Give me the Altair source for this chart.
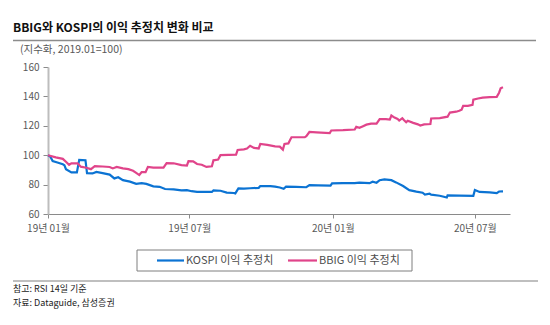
import altair as alt
import pandas as pd

# ---------------- data ----------------
series_names = ["KOSPI 이익 추정치", "BBIG 이익 추정치"]
series_colors = ["#0b73d3", "#e0448a"]

kospi_dates = [
    "2019-01-01", "2019-01-04", "2019-01-07", "2019-01-13", "2019-01-20", "2019-01-22",
    "2019-01-24", "2019-01-31", "2019-02-07", "2019-02-10", "2019-02-18", "2019-02-20",
    "2019-02-27", "2019-03-04", "2019-03-12", "2019-03-21", "2019-03-27", "2019-04-01",
    "2019-04-07", "2019-04-16", "2019-04-24", "2019-05-01", "2019-05-07", "2019-05-16",
    "2019-05-24", "2019-05-31", "2019-06-11", "2019-06-21", "2019-06-28", "2019-07-04",
    "2019-07-11", "2019-07-23", "2019-07-30", "2019-08-01", "2019-08-10", "2019-08-18",
    "2019-08-27", "2019-08-29", "2019-09-02", "2019-09-09", "2019-09-17", "2019-09-28",
    "2019-09-30", "2019-10-13", "2019-10-19", "2019-10-25", "2019-10-30", "2019-11-02",
    "2019-11-15", "2019-11-28", "2019-12-02", "2019-12-13", "2019-12-29", "2019-12-31",
    "2020-01-14", "2020-01-29", "2020-02-04", "2020-02-17", "2020-02-21", "2020-02-26",
    "2020-03-01", "2020-03-07", "2020-03-16", "2020-03-22", "2020-03-31", "2020-04-08",
    "2020-04-17", "2020-04-25", "2020-04-28", "2020-05-04", "2020-05-06", "2020-05-17",
    "2020-05-26", "2020-05-27", "2020-06-11", "2020-06-29", "2020-07-01", "2020-07-07",
    "2020-07-20", "2020-07-29", "2020-08-01", "2020-08-06",
]
kospi_vals = [
    100, 99, 96, 95, 93.8, 93.2,
    90.5, 88.3, 88.3, 96.8, 96.6, 87.8,
    87.6, 88.6, 87.8, 86.8, 84.2, 85,
    83, 82, 80.5, 81, 80.5, 78.8,
    78.5, 77, 76.8, 76.1, 76.2, 75.5,
    75.1, 75, 75, 76, 75.8, 74.6,
    74.3, 74, 77.4, 77.3, 77.5, 77.8,
    79, 79, 78.6, 78, 77.2, 78.6,
    78.5, 78.2, 79.6, 79.5, 79.3, 80.9,
    81, 81, 81.3, 81, 82, 81.3,
    83, 83.5, 83, 81.5, 79, 76.2,
    75.2, 74.5, 73.2, 73.8, 73.2, 72.4,
    71.2, 72.6, 72.5, 72.4, 76.3, 75,
    74.7, 74.2, 75.3, 75.4,
]

bbig_dates = [
    "2019-01-01", "2019-01-11", "2019-01-20", "2019-01-24", "2019-01-28", "2019-01-31",
    "2019-02-08", "2019-02-12", "2019-02-19", "2019-02-25", "2019-03-02", "2019-03-12",
    "2019-03-21", "2019-03-25", "2019-03-30", "2019-04-07", "2019-04-14", "2019-04-20",
    "2019-04-24", "2019-04-28", "2019-05-01", "2019-05-06", "2019-05-09", "2019-05-16",
    "2019-05-29", "2019-06-02", "2019-06-11", "2019-06-21", "2019-06-28", "2019-06-30",
    "2019-07-06", "2019-07-11", "2019-07-17", "2019-07-23", "2019-07-30", "2019-08-01",
    "2019-08-07", "2019-08-10", "2019-08-30", "2019-09-01", "2019-09-09", "2019-09-13",
    "2019-09-17", "2019-09-22", "2019-09-28", "2019-09-30", "2019-10-09", "2019-10-19",
    "2019-10-25", "2019-10-29", "2019-10-31", "2019-11-05", "2019-11-07", "2019-11-09",
    "2019-11-26", "2019-11-28", "2019-12-02", "2019-12-11", "2019-12-28", "2019-12-30",
    "2020-01-14", "2020-01-29", "2020-01-31", "2020-02-04", "2020-02-08", "2020-02-13",
    "2020-02-19", "2020-02-26", "2020-03-01", "2020-03-09", "2020-03-14", "2020-03-16",
    "2020-03-20", "2020-03-24", "2020-03-26", "2020-03-30", "2020-04-01", "2020-04-04",
    "2020-04-06", "2020-04-13", "2020-04-19", "2020-04-22", "2020-04-27", "2020-05-05",
    "2020-05-06", "2020-05-17", "2020-05-27", "2020-05-30", "2020-06-07", "2020-06-11",
    "2020-06-14", "2020-06-16", "2020-06-22", "2020-06-28", "2020-06-29", "2020-07-05",
    "2020-07-11", "2020-07-20", "2020-07-29", "2020-08-01", "2020-08-03", "2020-08-06",
]
bbig_vals = [
    100, 98.5, 97.5, 95.5, 93.5, 94.5,
    94.5, 92.2, 91.5, 90.5, 92.5, 92.3,
    92, 91, 92, 91, 90.5, 89.4,
    88, 86.5, 88.5, 88.5, 92, 91.5,
    91.5, 94.6, 94.5, 93.3, 93, 96,
    95.8, 94, 93.5, 92, 92.5, 96.5,
    97, 100, 100.4, 103.6, 104, 104.5,
    106.4, 105, 104.6, 107.6, 107, 106,
    105.8, 103.8, 107.6, 108, 110.2, 112.2,
    112.2, 113, 115.8, 115.5, 115, 116.8,
    117, 117.5, 119.3, 118.6, 119.6, 120.8,
    121.5, 121.5, 124.6, 124.6, 124.2, 127,
    125.6, 124.6, 123.6, 125.2, 124, 122.4,
    123.4, 122, 121, 120.2, 121, 121.2,
    125, 125.2, 126.2, 129, 129.6, 130.2,
    131, 133.6, 133.6, 134.2, 137.8, 138.6,
    139.2, 139.5, 139.7, 142.5, 145.5, 146.2,
]

y_ticks = [60, 80, 100, 120, 140, 160]
x_tick_dates = ["2019-01-01", "2019-07-01", "2020-01-01", "2020-07-01"]
x_domain = ["2019-01-01", "2020-08-15"]

title_text = "BBIG와 KOSPI의 이익 추정치 변화 비교"
subtitle_text = "(지수화, 2019.01=100)"
notes = ["참고: RSI 14일 기준", "자료: Dataguide, 삼성증권"]

# ---------------- build tables ----------------
df = pd.concat([
    pd.DataFrame({"date": kospi_dates, "value": kospi_vals, "series": series_names[0]}),
    pd.DataFrame({"date": bbig_dates, "value": bbig_vals, "series": series_names[1]}),
])

def ms(d):
    return int(pd.Timestamp(d, tz="UTC").value // 10**6)

FONT = "Noto Sans CJK KR"
color_scale = alt.Scale(domain=series_names, range=series_colors)

lines = alt.Chart(df).mark_line(strokeWidth=2.2).encode(
    x=alt.X(
        "date:T",
        scale=alt.Scale(type="utc", domain=[ms(d) for d in x_domain]),
        axis=alt.Axis(
            title=None, values=[ms(d) for d in x_tick_dates], format="%y년 %m월",
            grid=False, domainColor="#8a8a8a", domainWidth=1, tickColor="#8a8a8a",
            tickSize=4, labelPadding=5, labelFont=FONT, labelFontSize=10,
            labelColor="#595959", labelFlush=False,
        ),
    ),
    y=alt.Y(
        "value:Q",
        scale=alt.Scale(domain=[60, 160], nice=False, zero=False),
        axis=alt.Axis(
            title=None, values=y_ticks, grid=False, domainColor="#bdbdbd", domainWidth=2,
            tickColor="#8a8a8a", tickSize=5, labelPadding=4, labelFont=FONT,
            labelFontSize=10, labelColor="#595959",
        ),
    ),
    color=alt.Color("series:N", scale=color_scale, legend=None),
    detail="series:N",
)

def text_layer(txt, x, y, size, color, weight="normal"):
    return alt.Chart(pd.DataFrame({"t": [txt]})).mark_text(
        align="left", baseline="middle", font=FONT, fontSize=size, color=color,
        fontWeight=weight,
    ).encode(text="t:N", x=alt.value(x), y=alt.value(y))

one = pd.DataFrame({"k": [0]})

title = text_layer(title_text, -35, -39, 12, "#111111", "bold")
title_rule = alt.Chart(one).mark_rule(color="#8c8c8c", strokeWidth=1.5).encode(
    x=alt.value(-35), x2=alt.value(488), y=alt.value(-26.5))
subtitle = text_layer(subtitle_text, -28, -17, 10.5, "#595959")

legend_df = pd.DataFrame({"series": series_names})
legend_box = alt.Chart(one).mark_rect(fillOpacity=0, stroke="#7f7f7f", strokeWidth=1).encode(
    x=alt.value(89), x2=alt.value(364), y=alt.value(183), y2=alt.value(204))
leg_layers = []
for name, x1, x2 in [(series_names[0], 109, 136), (series_names[1], 240, 269)]:
    base = alt.Chart(legend_df).transform_filter(alt.datum.series == name)
    leg_layers.append(base.mark_rule(strokeWidth=2.2).encode(
        x=alt.value(x1), x2=alt.value(x2), y=alt.value(193.5),
        color=alt.Color("series:N", scale=color_scale, legend=None)))
    leg_layers.append(base.mark_text(
        align="left", baseline="middle", font=FONT, fontSize=11, color="#4d4d4d",
    ).encode(text="series:N", x=alt.value(x2 + 2), y=alt.value(193.5)))

foot_rule = alt.Chart(one).mark_rule(color="#bfbfbf", strokeWidth=2).encode(
    x=alt.value(-35), x2=alt.value(490), y=alt.value(214))
note1 = text_layer(notes[0], -35, 222, 9, "#222222")
note2 = text_layer(notes[1], -35, 235.5, 9, "#222222")

chart = alt.layer(
    lines, title, title_rule, subtitle, legend_box, *leg_layers, foot_rule, note1, note2
).properties(
    width=462, height=147,
    padding={"left": 48, "top": 67, "right": 40, "bottom": 111},
    autosize=alt.AutoSizeParams(type="none"),
    background="white",
).configure_view(stroke=None)

chart.save("out.html", embed_options={"renderer": "svg", "actions": False})
